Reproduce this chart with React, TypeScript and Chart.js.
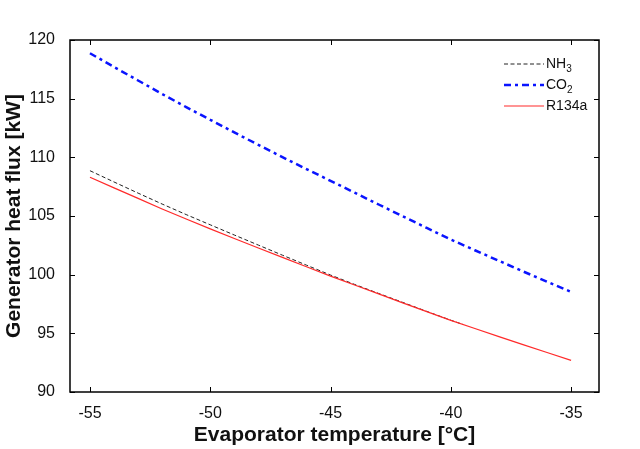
import React, { useEffect, useRef } from "react";
import { Chart, registerables } from "chart.js";

Chart.register(...registerables);

// ---- Data ----
const temperatures = [-55, -54, -53, -52, -51, -50, -49, -48, -47, -46, -45, -44, -43, -42, -41, -40, -39, -38, -37, -36, -35];
const nh3Temperatures = [-55, -54, -53, -52, -51, -50, -49, -48, -47, -46, -45, -44, -43, -42, -41, -40, -39.5];
const nh3Values = [108.86, 107.9, 106.95, 106.02, 105.12, 104.25, 103.38, 102.52, 101.66, 100.81, 99.97, 99.17, 98.4, 97.64, 96.87, 96.12, 95.76];
const co2Values = [118.87, 117.7, 116.55, 115.4, 114.28, 113.2, 112.12, 111.06, 110.02, 109.0, 108.0, 106.99, 105.98, 104.98, 103.98, 103.0, 102.08, 101.18, 100.28, 99.4, 98.53];
const r134aValues = [108.3, 107.4, 106.5, 105.6, 104.75, 103.9, 103.08, 102.27, 101.47, 100.67, 99.88, 99.12, 98.36, 97.6, 96.85, 96.1, 95.41, 94.72, 94.04, 93.37, 92.7];
const xTicks = [-55, -50, -45, -40, -35];
const yTicks = [90, 95, 100, 105, 110, 115, 120];
const seriesNames = ["NH3", "CO2", "R134a"];
const legendParts: [string, string][] = [["NH", "3"], ["CO", "2"], ["R134a", ""]];
const xTitle = "Evaporator temperature [°C]";
const yTitle = "Generator heat flux [kW]";

const FONT = "'Liberation Sans', Arial, Helvetica, sans-serif";

const framePlugin = {
  id: "frame",
  afterDatasetsDraw(chart: any) {
    const { ctx, chartArea, scales } = chart;
    const { left, right, top, bottom } = chartArea;
    ctx.save();
    ctx.strokeStyle = "#000";
    ctx.lineWidth = 1.5;
    ctx.setLineDash([]);
    ctx.strokeRect(left, top, right - left, bottom - top);
    ctx.lineWidth = 1;
    const tl = 5;
    ctx.beginPath();
    for (const t of scales.x.ticks) {
      const px = Math.round(scales.x.getPixelForValue(t.value)) + 0.5;
      ctx.moveTo(px, bottom);
      ctx.lineTo(px, bottom - tl);
      ctx.moveTo(px, top);
      ctx.lineTo(px, top + tl);
    }
    for (const t of scales.y.ticks) {
      const py = Math.round(scales.y.getPixelForValue(t.value)) + 0.5;
      ctx.moveTo(left, py);
      ctx.lineTo(left + tl, py);
      ctx.moveTo(right, py);
      ctx.lineTo(right - tl, py);
    }
    ctx.stroke();

    // legend
    const x0 = 504;
    const x1 = 544;
    const ys = [64, 85, 106];
    chart.data.datasets.forEach((ds: any, i: number) => {
      const y = ys[i];
      ctx.save();
      ctx.strokeStyle = ds.borderColor;
      ctx.lineWidth = ds.borderWidth;
      ctx.setLineDash(ds.borderDash || []);
      ctx.beginPath();
      ctx.moveTo(x0, y);
      ctx.lineTo(x1, y);
      ctx.stroke();
      ctx.restore();
      const [main, sub] = legendParts[i];
      ctx.fillStyle = "#111";
      ctx.textBaseline = "middle";
      ctx.textAlign = "left";
      ctx.font = `14px ${FONT}`;
      ctx.fillText(main, x1 + 2, y);
      const w = ctx.measureText(main).width;
      if (sub) {
        ctx.font = `10px ${FONT}`;
        ctx.fillText(sub, x1 + 2 + w, y + 5);
      }
    });
    ctx.restore();
  },
};

export default function App() {
  const ref = useRef<HTMLCanvasElement>(null);
  useEffect(() => {
    const canvas = ref.current;
    if (!canvas) return;
    const chart = new Chart(canvas, {
      type: "line",
      data: {
        datasets: [
          {
            label: seriesNames[0],
            data: nh3Temperatures.map((t, i) => ({ x: t, y: nh3Values[i] })),
            borderColor: "#222222",
            borderWidth: 1,
            borderDash: [4, 2.5],
            pointRadius: 0,
            fill: false,
            tension: 0,
            order: 1,
          },
          {
            label: seriesNames[1],
            data: temperatures.map((t, i) => ({ x: t, y: co2Values[i] })),
            borderColor: "#0a14ff",
            borderWidth: 2.5,
            borderDash: [7, 4, 3, 4],
            pointRadius: 0,
            fill: false,
            tension: 0,
            order: 2,
          },
          {
            label: seriesNames[2],
            data: temperatures.map((t, i) => ({ x: t, y: r134aValues[i] })),
            borderColor: "#ff2a2a",
            borderWidth: 1.2,
            pointRadius: 0,
            fill: false,
            tension: 0,
            order: 0,
          },
        ],
      },
      options: {
        responsive: false,
        animation: false,
        devicePixelRatio: 1,
        layout: { padding: { top: 40, right: 41, left: 0, bottom: 0 } },
        plugins: {
          legend: { display: false },
          tooltip: { enabled: false },
        },
        scales: {
          x: {
            type: "linear",
            min: -55.83,
            max: -33.84,
            afterBuildTicks: (s: any) => {
              s.ticks = xTicks.map((v) => ({ value: v }));
            },
            afterFit: (s: any) => {
              s.height = 57;
            },
            grid: { display: false },
            border: { display: false },
            ticks: {
              color: "#111",
              font: { family: FONT, size: 16 },
              padding: 4,
              maxRotation: 0,
              callback: (v: any) => String(v),
            },
            title: {
              display: true,
              text: xTitle,
              color: "#111",
              font: { family: FONT, size: 21, weight: "bold" },
              padding: { top: 0, bottom: 1 },
            },
          },
          y: {
            type: "linear",
            min: 90,
            max: 120,
            afterBuildTicks: (s: any) => {
              s.ticks = yTicks.map((v) => ({ value: v }));
            },
            afterFit: (s: any) => {
              s.width = 70;
            },
            grid: { display: false },
            border: { display: false },
            ticks: {
              color: "#111",
              font: { family: FONT, size: 16 },
              padding: 7,
              callback: (v: any) => String(v),
            },
            title: {
              display: true,
              text: yTitle,
              color: "#111",
              font: { family: FONT, size: 21, weight: "bold" },
              padding: { top: 2, bottom: 0 },
            },
          },
        },
      },
      plugins: [framePlugin],
    });
    return () => chart.destroy();
  }, []);
  return (
    <div style={{ position: "absolute", left: 0, top: 0, width: 640, height: 449, background: "#fff" }}>
      <canvas ref={ref} width={640} height={449} style={{ display: "block" }} />
    </div>
  );
}
